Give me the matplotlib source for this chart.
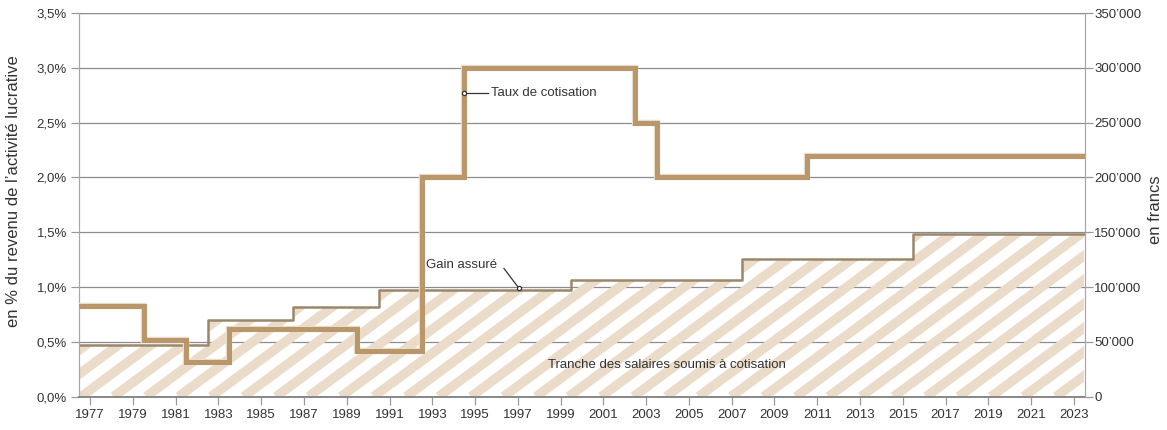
import numpy as np
import matplotlib
matplotlib.use('Agg')
import matplotlib.pyplot as plt
import matplotlib.patheffects as path_effects
from matplotlib.collections import LineCollection
from matplotlib.ticker import FuncFormatter

plt.rcParams['font.family'] = ['Liberation Sans', 'DejaVu Sans']

# Contribution rate (% of income), from the year it applies
rate_years = [1977, 1980, 1982, 1984, 1990, 1993, 1995, 2003, 2004, 2011]
rate_values = [0.83, 0.52, 0.32, 0.62, 0.42, 2.0, 3.0, 2.5, 2.0, 2.2]

# Insured earnings ceiling (francs), from the year it applies
gain_years = [1977, 1983, 1987, 1991, 2000, 2008, 2016]
gain_values = [46800, 69600, 81600, 97200, 106800, 126000, 148200]

last_year = 2023
year_ticks = list(range(1977, 2024, 2))
pct_ticks = [0.0, 0.5, 1.0, 1.5, 2.0, 2.5, 3.0, 3.5]
chf_ticks = [0, 50000, 100000, 150000, 200000, 250000, 300000, 350000]

RATE_COL = '#B9976B'
GAIN_COL = '#9B876C'
STRIPE_COL = '#EADCC8'
GRID_COL = '#8C8C8C'
TXT = '#333333'


def steps(years, values):
    xs = [y - 0.5 for y in years] + [last_year + 0.5]
    ys = list(values) + [values[-1]]
    return np.array(xs), np.array(ys)


fig = plt.figure(figsize=(11.67, 4.3), dpi=100)
ax = fig.add_axes([79.5 / 1167, 1 - 396.7 / 430, 1005 / 1167, 383.7 / 430])
ax2 = ax.twinx()
ax2.set_zorder(ax.get_zorder() - 1)
ax.patch.set_visible(False)

ax.set_xlim(1976.5, 2023.5)
ax.set_ylim(0, 3.5)
ax2.set_ylim(0, 350000)

# grid (drawn under the stripes)
for v in chf_ticks[1:]:
    ax2.axhline(v, color=GRID_COL, lw=0.9, zorder=1)

# Gain assuré area with diagonal stripes
gx, gy = steps(gain_years, gain_values)
poly = ax2.fill_between(gx, 0, gy, step='post', facecolor='none', edgecolor='none', zorder=2)

# stripes in axes-fraction coordinates (pixel slope ~0.74)
aw, ah = 1005.0, 383.7
slope = 0.74 * aw / ah
period = 32.5 / aw
segs = []
x0 = -1.0 / slope - period
while x0 < 1.0 + period:
    segs.append([(x0, 0.0), (x0 + 1.0 / slope, 1.0)])
    x0 += period
lc = LineCollection(segs, colors=STRIPE_COL, linewidths=6.8,
                    transform=ax2.transAxes, zorder=2)
ax2.add_collection(lc)
lc.set_clip_path(poly.get_paths()[0], ax2.transData)

ax2.plot(gx, gy, drawstyle='steps-post', color=GAIN_COL, lw=1.8, zorder=4)

# Taux de cotisation
rx, ry = steps(rate_years, rate_values)
rl, = ax.plot(rx, ry, drawstyle='steps-post', color=RATE_COL, lw=3.5, zorder=5,
              solid_joinstyle='miter')
rl.set_path_effects([path_effects.withStroke(linewidth=4.6, foreground='#E8DCCB'),
                     path_effects.Normal()])

# axes styling
for a in (ax, ax2):
    a.spines['top'].set_visible(False)
    a.spines['left'].set_color('#A8A8A8')
    a.spines['right'].set_color('#A8A8A8')
    a.spines['bottom'].set_color('#8A8A8A')
    a.spines['bottom'].set_linewidth(1.4)
ax2.axhline(350000, color=GRID_COL, lw=0.9, zorder=1)

ax.set_xticks(year_ticks)
ax.set_xticklabels([str(y) for y in year_ticks])
ax.set_yticks(pct_ticks)
ax.yaxis.set_major_formatter(FuncFormatter(lambda v, p: f'{v:.1f}%'.replace('.', ',')))
ax2.set_yticks(chf_ticks)
ax2.yaxis.set_major_formatter(FuncFormatter(
    lambda v, p: '0' if v == 0 else f'{int(v):,}'.replace(',', '\u2019')))

ax.tick_params(axis='x', length=6, width=0.9, color='#999999', labelsize=9.5,
               labelcolor=TXT, pad=3)
ax.tick_params(axis='y', length=6, width=0.9, color='#999999', labelsize=9.5,
               labelcolor=TXT, pad=3)
ax2.tick_params(axis='y', length=6, width=0.9, color='#999999', labelsize=9.5,
                labelcolor=TXT, pad=1)

# axis titles
fig.text(14 / 1167, 1 - 191 / 430, 'en % du revenu de l\u2019activit\u00e9 lucrative',
         rotation=90, ha='center', va='center', fontsize=12, color=TXT)
fig.text(1156 / 1167, 1 - 210 / 430, 'en francs', rotation=90,
         ha='center', va='center', fontsize=12, color=TXT)

# annotations
ax.plot([1994.5, 1995.6], [2.77, 2.77], color=TXT, lw=0.9, zorder=6)
ax.plot([1994.5], [2.77], marker='o', ms=3, mfc='white', mec=TXT, mew=0.9, zorder=7)
ax.text(1995.75, 2.77, 'Taux de cotisation', ha='left', va='center',
        fontsize=9.5, color=TXT, zorder=7)

ax.plot([1996.35, 1997.05], [1.17, 0.99], color=TXT, lw=0.9, zorder=6)
ax.plot([1997.05], [0.99], marker='o', ms=3, mfc='white', mec=TXT, mew=0.9, zorder=7)
ax.text(1996.05, 1.2, 'Gain assur\u00e9', ha='right', va='center',
        fontsize=9.5, color=TXT, zorder=7)

ax.text(2003.95, 0.29, 'Tranche des salaires soumis \u00e0 cotisation',
        ha='center', va='center', fontsize=9.5, color=TXT, zorder=7)

fig.savefig('out.png', dpi=100, facecolor='white')
